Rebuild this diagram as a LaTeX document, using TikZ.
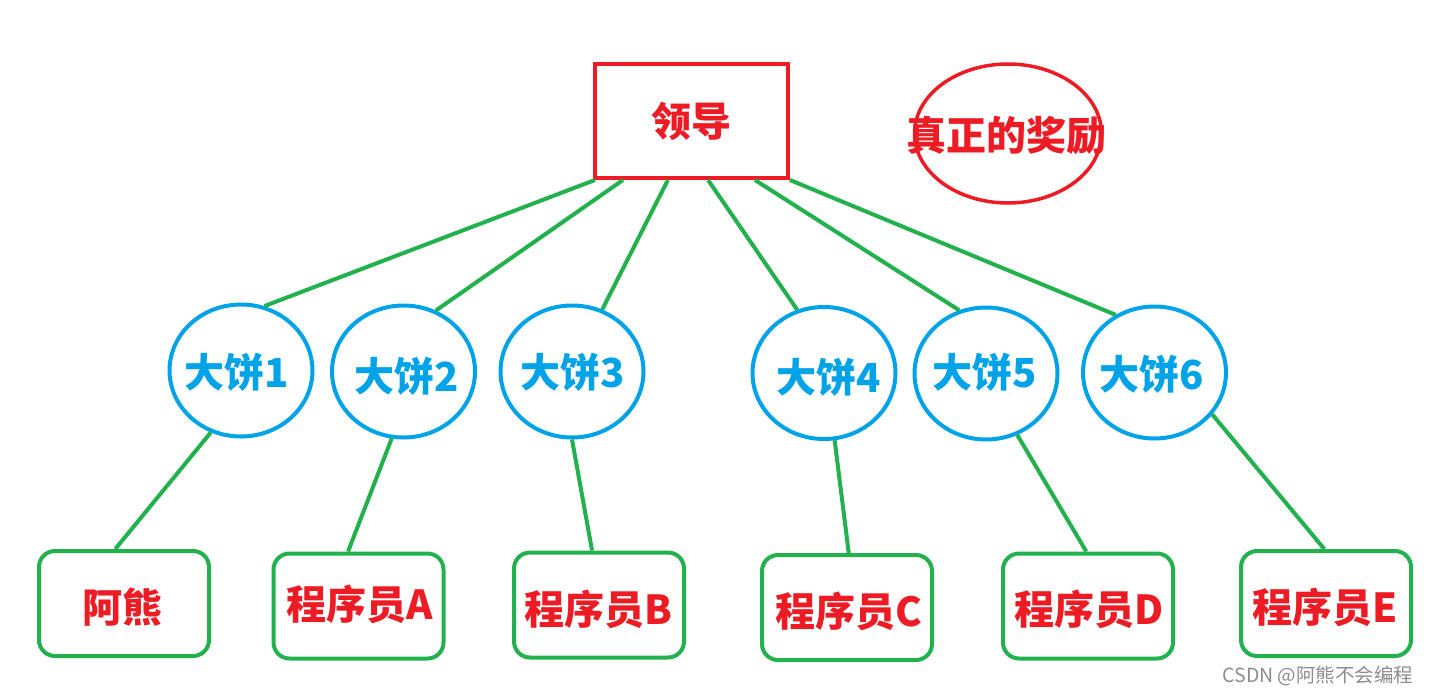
\documentclass[tikz,border=0pt]{standalone}
\usepackage{fontspec}
\usetikzlibrary{shapes.geometric,calc}
\newfontfamily\cjk{Noto Sans CJK SC}
\definecolor{pred}{HTML}{ED1C24}
\definecolor{pblue}{HTML}{00A2E8}
\definecolor{pgreen}{HTML}{22B14C}
\tikzset{
  bigtxt/.style={font=\cjk\bfseries\fontsize{40}{42}\selectfont},
  leadbox/.style={draw=pred, line width=4pt, minimum width=193pt, minimum height=114pt, inner sep=0pt, text=pred, bigtxt},
  reward/.style={ellipse, draw=pred, line width=3.5pt, minimum width=187pt, minimum height=139pt, inner sep=0pt, text=pred, bigtxt},
  bing/.style={ellipse, draw=pblue, line width=4pt, minimum width=143pt, minimum height=132pt, inner sep=0pt, text=pblue, bigtxt},
  worker/.style={draw=pgreen, line width=4pt, rounded corners=16pt, minimum width=170pt, minimum height=105pt, inner sep=0pt, text=pred, bigtxt},
  link/.style={draw=pgreen, line width=4pt},
}
\begin{document}
\begin{tikzpicture}[x=1pt,y=-1pt]
\useasboundingbox (0,0) rectangle (1429,694);
% leader and reward
\node[leadbox] (lead) at (691.5,121) {领导};
\node[reward] (rew) at (1008,133.5) {};
\node[text=pred, bigtxt, inner sep=0pt] (rewt) at (1006,135) {真正的奖励};
% cakes
\node[bing] (c1) at (241,370.5) {};
\node[bing] (c2) at (403.5,371.5) {};
\node[bing] (c3) at (572,371.5) {};
\node[bing] (c4) at (824,373) {};
\node[bing] (c5) at (986,373.5) {};
\node[bing] (c6) at (1154.5,372.5) {};
\node[text=pblue, bigtxt, inner sep=0pt] (t1) at (237,372) {大饼1};
\node[text=pblue, bigtxt, inner sep=0pt] (t2) at (407,376) {大饼2};
\node[text=pblue, bigtxt, inner sep=0pt] (t3) at (573,372) {大饼3};
\node[text=pblue, bigtxt, inner sep=0pt] (t4) at (829,377) {大饼4};
\node[text=pblue, bigtxt, inner sep=0pt] (t5) at (985,372) {大饼5};
\node[text=pblue, bigtxt, inner sep=0pt] (t6) at (1152,374) {大饼6};
% workers
\node[worker] (b1) at (124,603.5) {};
\node[worker] (b2) at (358.5,606) {};
\node[worker] (b3) at (599,605) {};
\node[worker] (b4) at (847,607.5) {};
\node[worker] (b5) at (1088,606) {};
\node[worker] (b6) at (1326,603.5) {};
\node[text=pred, bigtxt, inner sep=0pt] (w1) at (122,607) {阿熊};
\node[text=pred, bigtxt, inner sep=0pt] (w2) at (360,604) {程序员A};
\node[text=pred, bigtxt, inner sep=0pt] (w3) at (598,609) {程序员B};
\node[text=pred, bigtxt, inner sep=0pt] (w4) at (849,611) {程序员C};
\node[text=pred, bigtxt, inner sep=0pt] (w5) at (1089,609) {程序员D};
\node[text=pred, bigtxt, inner sep=0pt] (w6) at (1325,607) {程序员E};
% leader to cakes
\draw[link] ($(lead.south west)!0.01!(lead.south east)$) -- (c1.70.5);
\draw[link] ($(lead.south west)!0.152!(lead.south east)$) -- (c2.62);
\draw[link] ($(lead.south west)!0.38!(lead.south east)$) -- (c3.64.6);
\draw[link] ($(lead.south west)!0.584!(lead.south east)$) -- (c4.113);
\draw[link] ($(lead.south west)!0.822!(lead.south east)$) -- (c5.113);
\draw[link] ($(lead.south west)!1.0!(lead.south east)$) -- (c6.124);
% cakes to workers
\draw[link] (c1.244) -- ($(b1.north west)!0.45!(b1.north east)$);
\draw[link] (c2.260) -- ($(b2.north west)!0.44!(b2.north east)$);
\draw[link] (c3.270) -- ($(b3.north west)!0.46!(b3.north east)$);
\draw[link] (c4.279) -- ($(b4.north west)!0.51!(b4.north east)$);
\draw[link] (c5.297) -- ($(b5.north west)!0.49!(b5.north east)$);
\draw[link] (c6.324) -- ($(b6.north west)!0.49!(b6.north east)$);
% watermark
\node[font=\cjk\fontsize{19.5}{21}\selectfont, text=black!45, inner sep=0pt] (wm) at (1318,676) {CSDN @阿熊不会编程};
\end{tikzpicture}
\end{document}
